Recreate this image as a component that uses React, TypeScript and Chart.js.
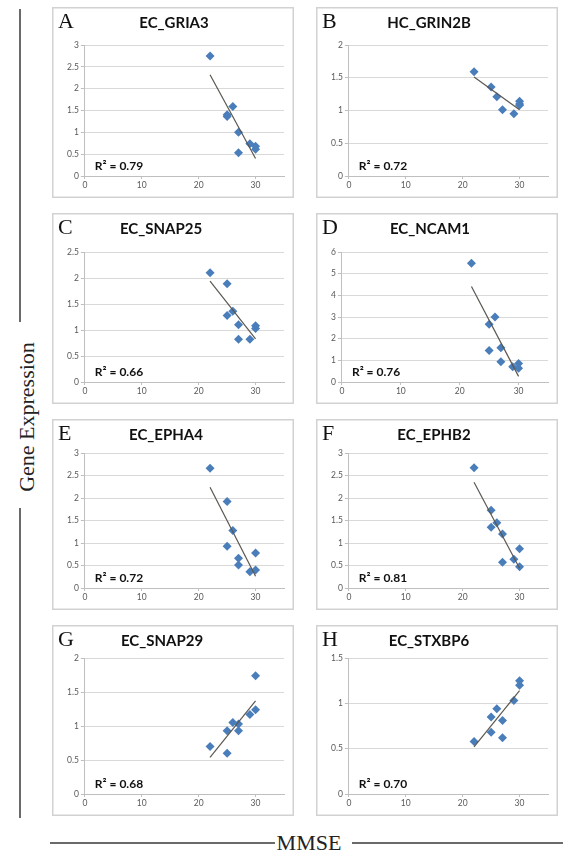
import React, { useEffect, useRef } from "react";
import { Chart, registerables } from "chart.js";

Chart.register(...registerables);

// ---------- data ----------
const panelLetters = ["A", "B", "C", "D", "E", "F", "G", "H"];
const panelTitles = ["EC_GRIA3", "HC_GRIN2B", "EC_SNAP25", "EC_NCAM1", "EC_EPHA4", "EC_EPHB2", "EC_SNAP29", "EC_STXBP6"];
const r2Labels = ["0.79", "0.72", "0.66", "0.76", "0.72", "0.81", "0.68", "0.70"];
const yMaxValues = [3, 2, 2.5, 6, 3, 3, 2, 1.5];
const yStepValues = [0.5, 0.5, 0.5, 1, 0.5, 0.5, 0.5, 0.5];
const xTickValues = [0, 10, 20, 30];
const xMaxValue = 35;
const trendX = [22, 30];

const mmseA = [22, 25, 25, 26, 27, 27, 29, 30, 30];
const exprA = [2.75, 1.40, 1.36, 1.59, 1.00, 0.53, 0.74, 0.68, 0.61];
const trendA = [2.32, 0.40];

const mmseB = [22, 25, 26, 27, 29, 30, 30, 30];
const exprB = [1.59, 1.36, 1.21, 1.01, 0.95, 1.14, 1.10, 1.08];
const trendB = [1.51, 1.01];

const mmseC = [22, 25, 25, 26, 27, 27, 29, 30, 30];
const exprC = [2.10, 1.89, 1.28, 1.36, 1.10, 0.82, 0.82, 1.08, 1.03];
const trendC = [1.94, 0.83];

const mmseD = [22, 25, 25, 26, 27, 27, 29, 30, 30];
const exprD = [5.48, 2.66, 1.45, 3.0, 1.58, 0.94, 0.70, 0.85, 0.64];
const trendD = [4.41, 0.26];

const mmseE = [22, 25, 25, 26, 27, 27, 29, 30, 30];
const exprE = [2.66, 1.92, 0.93, 1.28, 0.66, 0.51, 0.36, 0.78, 0.40];
const trendE = [2.24, 0.26];

const mmseF = [22, 25, 25, 26, 27, 27, 29, 30, 30];
const exprF = [2.67, 1.73, 1.35, 1.45, 1.20, 0.57, 0.64, 0.87, 0.47];
const trendF = [2.35, 0.44];

const mmseG = [22, 25, 25, 26, 27, 27, 29, 30, 30];
const exprG = [0.70, 0.93, 0.60, 1.05, 1.03, 0.93, 1.17, 1.24, 1.74];
const trendG = [0.54, 1.37];

const mmseH = [22, 25, 25, 26, 27, 27, 29, 30, 30];
const exprH = [0.58, 0.85, 0.68, 0.94, 0.81, 0.62, 1.03, 1.25, 1.20];
const trendH = [0.52, 1.14];

const mmseSets = [mmseA, mmseB, mmseC, mmseD, mmseE, mmseF, mmseG, mmseH];
const exprSets = [exprA, exprB, exprC, exprD, exprE, exprF, exprG, exprH];
const trendSets = [trendA, trendB, trendC, trendD, trendE, trendF, trendG, trendH];

// ---------- layout ----------
const colX = [52, 316];
const rowY = [7, 213, 419, 625];
const panelW = 242;
const panelH = 191;
const plotTopOffsets = [38, 38, 39, 39, 34, 34, 33, 33];
const titleCenterOffsets = [122, 113, 109, 114, 114, 118, 110, 113];

const tickFont = "Lato, 'Open Sans', sans-serif";

const r2Plugin = {
  id: "r2label",
  afterDatasetsDraw(chart: any, _args: any, opts: any) {
    const { ctx, chartArea } = chart;
    ctx.save();
    ctx.font = "bold 12px Lato, 'Open Sans', sans-serif";
    ctx.fillStyle = "#111";
    ctx.textBaseline = "middle";
    ctx.textAlign = "left";
    ctx.fillText(opts.text, chartArea.left + 10, chartArea.bottom - 10);
    ctx.restore();
  },
};

function Panel({ idx }: { idx: number }) {
  const ref = useRef<HTMLCanvasElement>(null);
  const col = idx % 2;
  const row = Math.floor(idx / 2);
  const left = colX[col];
  const top = rowY[row];

  useEffect(() => {
    const mmse = mmseSets[idx];
    const expr = exprSets[idx];
    const trend = trendSets[idx];
    const chart = new Chart(ref.current!, {
      type: "scatter",
      data: {
        datasets: [
          {
            label: "trend",
            data: trendX.map((x, j) => ({ x, y: trend[j] })),
            showLine: true,
            borderColor: "#5b5750",
            borderWidth: 1.2,
            pointRadius: 0,
            fill: false,
          },
          {
            label: "samples",
            data: mmse.map((x, j) => ({ x, y: expr[j] })),
            pointStyle: "rectRot",
            pointRadius: 4.5,
            backgroundColor: "#4a7ebb",
            borderColor: "#4a7ebb",
            borderWidth: 0,
          },
        ],
      },
      options: {
        responsive: false,
        animation: false,
        devicePixelRatio: 1,
        layout: { padding: { top: plotTopOffsets[idx], right: 10, bottom: 0, left: 13 } },
        plugins: {
          legend: { display: false },
          tooltip: { enabled: false },
          title: { display: false },
          r2label: { text: "R\u00B2 = " + r2Labels[idx] },
        } as any,
        scales: {
          x: {
            type: "linear",
            min: 0,
            max: xMaxValue,
            afterBuildTicks: (scale: any) => {
              scale.ticks = xTickValues.map((v) => ({ value: v }));
            },
            afterFit: (scale: any) => {
              scale.height = panelH - 169;
            },
            grid: { drawOnChartArea: false, drawTicks: true, tickLength: 3, color: "#bfbfbf" },
            border: { color: "#bfbfbf", width: 1 },
            ticks: {
              padding: 1,
              color: "#595959",
              font: { family: tickFont, size: 8.5 },
              maxRotation: 0,
              callback: (v: any) => String(v),
            },
          },
          y: {
            type: "linear",
            min: 0,
            max: yMaxValues[idx],
            ticks: {
              stepSize: yStepValues[idx],
              padding: 2,
              color: "#595959",
              font: { family: tickFont, size: 8.5 },
              callback: (v: any) => String(Math.round(Number(v) * 100) / 100),
            },
            grid: { color: "#d9d9d9", tickColor: "#bfbfbf", tickLength: 4, lineWidth: 1 },
            border: { color: "#bfbfbf", width: 1 },
          },
        },
      },
      plugins: [r2Plugin],
    });
    return () => chart.destroy();
  }, [idx]);

  return (
    <div
      style={{
        position: "absolute",
        left,
        top,
        width: panelW,
        height: panelH,
        background: "#fff",
        boxShadow: "inset 0 0 0 1.5px #d2d2d2",
      }}
    >
      <canvas ref={ref} width={panelW} height={panelH} style={{ position: "absolute", left: 0, top: 0 }} />
      <div
        style={{
          position: "absolute",
          left: 6,
          top: 3,
          fontFamily: "'Liberation Serif', 'Times New Roman', serif",
          fontSize: 22,
          lineHeight: "22px",
          color: "#111",
        }}
      >
        {panelLetters[idx]}
      </div>
      <div
        style={{
          position: "absolute",
          left: titleCenterOffsets[idx] - 60,
          width: 120,
          top: 8,
          textAlign: "center",
          fontFamily: "Lato, 'Open Sans', sans-serif",
          fontWeight: 700,
          fontSize: 15,
          lineHeight: "15px",
          color: "#111",
          whiteSpace: "nowrap",
        }}
      >
        {panelTitles[idx]}
      </div>
    </div>
  );
}

export default function App() {
  const lineColor = "#6a6a6a";
  return (
    <div
      style={{
        position: "absolute",
        left: 0,
        top: 0,
        width: 569,
        height: 859,
        background: "#fff",
        overflow: "hidden",
      }}
    >
      {panelLetters.map((_, i) => (
        <Panel key={i} idx={i} />
      ))}
      {/* left vertical rule with label */}
      <div style={{ position: "absolute", left: 19, top: 9, width: 2, height: 313, background: lineColor }} />
      <div style={{ position: "absolute", left: 19, top: 508, width: 2, height: 310, background: lineColor }} />
      <div
        style={{
          position: "absolute",
          left: 27,
          top: 417,
          transform: "translate(-50%, -50%) rotate(-90deg)",
          fontFamily: "'Liberation Serif', 'Times New Roman', serif",
          fontSize: 22,
          lineHeight: "22px",
          color: "#222",
          whiteSpace: "nowrap",
        }}
      >
        Gene Expression
      </div>
      {/* bottom rule with label */}
      <div style={{ position: "absolute", left: 50, top: 842, width: 225, height: 2, background: lineColor }} />
      <div style={{ position: "absolute", left: 352, top: 842, width: 211, height: 2, background: lineColor }} />
      <div
        style={{
          position: "absolute",
          left: 309,
          top: 843,
          transform: "translate(-50%, -50%)",
          fontFamily: "'Liberation Serif', 'Times New Roman', serif",
          fontSize: 22,
          lineHeight: "22px",
          color: "#222",
          whiteSpace: "nowrap",
        }}
      >
        MMSE
      </div>
    </div>
  );
}
